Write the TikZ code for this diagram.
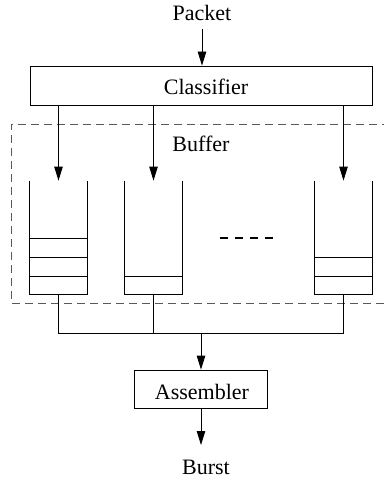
\documentclass[tikz,border=0pt]{standalone}
\usepackage{fontspec}
\setmainfont{Liberation Serif}
\usetikzlibrary{arrows.meta}
\begin{document}
\begin{tikzpicture}[x=1pt,y=-1pt,
  line width=0.8pt,
  lbl/.style={font=\fontsize{22}{26}\selectfont, inner sep=0pt, anchor=base},
  boxnode/.style={draw, rectangle, inner sep=0pt, font=\fontsize{22}{26}\selectfont},
  qnode/.style={rectangle, inner sep=0pt, minimum width=57pt, minimum height=113pt},
  arr/.style={-{Triangle[length=14pt,width=8.5pt]}},
  qline/.style={line width=0.8pt}
]
\useasboundingbox (0,0) rectangle (383,481);
\node[lbl] (packet) at (202,21) {Packet};
\node[boxnode, minimum width=342pt, minimum height=39pt] (cls) at (201,85.5) {};
\node[lbl] (clst) at (206,95) {Classifier};
\node[lbl] (buf) at (201,152) {Buffer};
\draw[black!65, line width=0.9pt, dash pattern=on 8pt off 5pt] (390,124) -- (11,124) -- (11,303) -- (390,303);
% queues
\node[qnode] (q1) at (58.5,237.5) {};
\node[qnode] (q2) at (153.5,237.5) {};
\node[qnode] (q3) at (343.5,237.5) {};
\foreach \q in {q1,q2,q3}
  \draw (\q.north west) -- (\q.south west) -- (\q.south east) -- (\q.north east);
\foreach \yy in {238,257,276} \draw (q1.west |- 0,\yy) -- (q1.east |- 0,\yy);
\draw (q2.west |- 0,276) -- (q2.east |- 0,276);
\foreach \yy in {257,276} \draw (q3.west |- 0,\yy) -- (q3.east |- 0,\yy);
\coordinate (d1) at (220,238);
\coordinate (d2) at (273,238);
\draw[line width=1.3pt, dash pattern=on 8pt off 7pt] (d1) -- (d2);
% arrows
\draw[arr] (packet.south |- 0,29) -- (packet.south |- cls.north);
\foreach \q in {q1,q2,q3}
  \draw[arr] (cls.south -| \q) -- (\q.north);
% merge
\coordinate (m1) at (58.5,333);
\coordinate (m3) at (343.5,333);
\coordinate (m0) at (201,333);
\draw (q1.south) -- (m1) -- (m3) -- (q3.south);
\draw (q2.south) -- (q2.south |- m1);
\node[boxnode, minimum width=133pt, minimum height=38pt] (asm) at (200.5,389) {};
\node[lbl] (asmt) at (202,399) {Assembler};
\draw[arr] (m0) -- (m0 |- asm.north);
\coordinate (bt) at (201,445);
\draw[arr] (asm.south -| m0) -- (bt);
\node[lbl] (burst) at (206,474) {Burst};
\end{tikzpicture}
\end{document}
